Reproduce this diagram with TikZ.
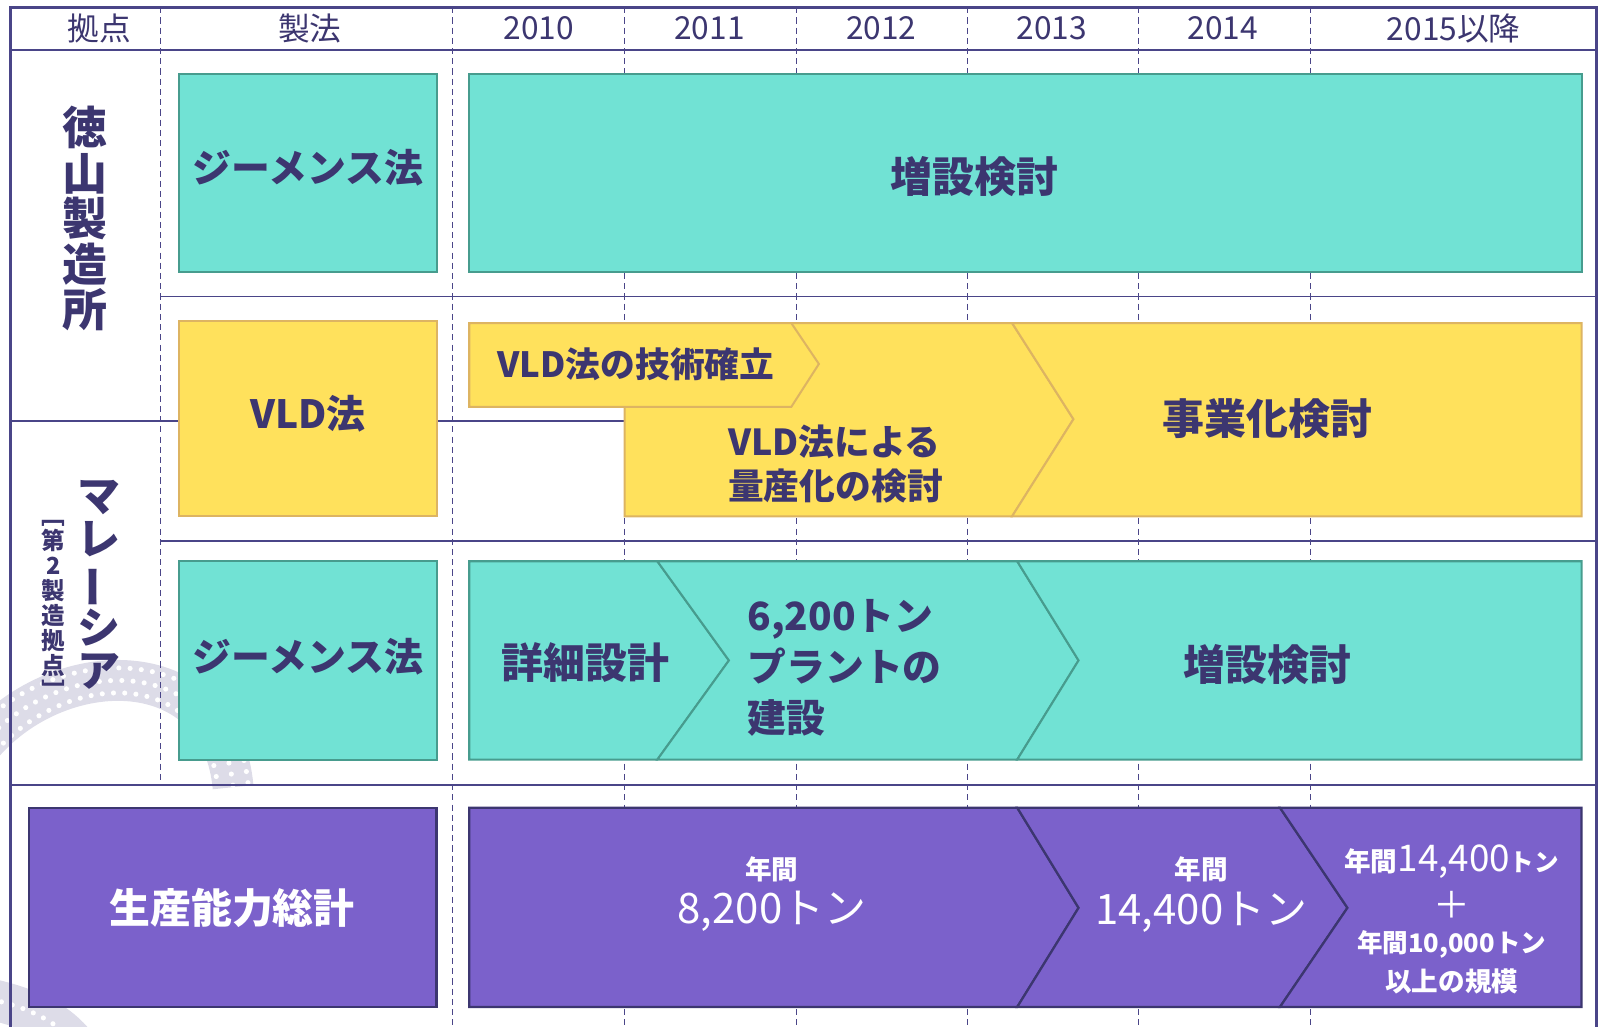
\documentclass[tikz,border=0pt]{standalone}
\usepackage{fontspec}
\setmainfont{Noto Sans CJK JP}
\usepackage{graphicx}

\definecolor{ink}{HTML}{3C3670}
\definecolor{gridline}{HTML}{4A4588}
\definecolor{tealfill}{HTML}{71E2D4}
\definecolor{tealedge}{HTML}{479C8E}
\definecolor{yellowfill}{HTML}{FFE15C}
\definecolor{yellowedge}{HTML}{DDB462}
\definecolor{purplefill}{HTML}{7B61CB}
\definecolor{purpleedge}{HTML}{3C3670}
\definecolor{ribbon}{HTML}{DDDCE8}

\begin{document}
\begin{tikzpicture}[x=1pt,y=-1pt]

      \tikzset{tealbox/.style={draw=tealedge, fill=tealfill, line width=2pt},
               yellowbox/.style={draw=yellowedge, fill=yellowfill, line width=2pt},
               purplebox/.style={draw=purpleedge, fill=purplefill, line width=2.2pt},
               frame/.style={draw=gridline, line width=1.5pt},
               yearline/.style={draw=gridline, line width=0.9pt, dash pattern=on 6pt off 4pt},
               ribbonband/.style={draw=ribbon, line width=40pt},
               ribbondots/.style={draw=white, line width=5pt, line cap=round, dash pattern=on 0pt off 11pt},
               head/.style={text=ink, inner sep=0pt, font=\fontsize{31}{31}\selectfont},
               boxtext/.style={text=ink, inner sep=0pt, font=\fontsize{38}{50}\selectfont\bfseries},
               sidetext/.style={text=ink, inner sep=0pt, align=center},
               whitetext/.style={text=white, inner sep=0pt}}

      \useasboundingbox (0,0) rectangle (1568,1004);

%% Background ribbon
      	\draw[ribbonband] (-30,745) .. controls (40,640) and (215,630) .. (228,770);
      	\draw[ribbondots] (-30,745) .. controls (40,640) and (215,630) .. (228,770);
      	\draw[ribbondots] (-42,738) .. controls (30,625) and (230,615) .. (243,770);
      	\draw[ribbondots] (-18,752) .. controls (50,655) and (200,645) .. (213,770);
      	\draw[ribbonband] (-20,975) .. controls (30,985) and (60,1000) .. (80,1030);
      	\draw[ribbondots] (-20,975) .. controls (30,985) and (60,1000) .. (80,1030);

%% Grid
      	\draw[frame, line width=3pt] (10,1010) -- (10,7) -- (1562,7) -- (1562,1010);
      	\draw[frame] (10,49) -- (1562,49);
      	\draw[frame] (157,290) -- (1562,290);
      	\draw[frame] (10,412) -- (611,412);
      	\draw[frame] (157,529) -- (1562,529);
      	\draw[frame] (10,768) -- (1562,768);
      	\draw[yearline] (157,7) -- (157,768);
      	\draw[yearline] (443,7) -- (443,1010);
      	\draw[yearline] (611,7) -- (611,1010);
      	\draw[yearline] (779,7) -- (779,1010);
      	\draw[yearline] (946,7) -- (946,1010);
      	\draw[yearline] (1114,7) -- (1114,1010);
      	\draw[yearline] (1282,7) -- (1282,1010);

%% Header
      	\node[head] (hbase) at (97,28) {拠点};
      	\node[head] (hmethod) at (303,28) {製法};
      	\node[head] (y2010) at (527,28) {2010};
      	\node[head] (y2011) at (694,28) {2011};
      	\node[head] (y2012) at (862,28) {2012};
      	\node[head] (y2013) at (1029,28) {2013};
      	\node[head] (y2014) at (1196,28) {2014};
      	\node[head] (y2015) at (1422,28) {2015以降};

%% Sites
      	\node[sidetext, font=\fontsize{44}{44.5}\selectfont\bfseries] (tokuyama) at (83,214) {徳\\山\\製\\造\\所};
      	\node[sidetext, font=\fontsize{42}{42}\selectfont\bfseries] (malaysia) at (97,572) {マ\\レ\\\rotatebox[origin=c]{90}{ー}\\シ\\ア};
      	\node[sidetext, font=\fontsize{23}{24.5}\selectfont\bfseries] (second) at (52,590) {\rotatebox[origin=c]{-90}{［}\\第\\2\\製\\造\\拠\\点\\\rotatebox[origin=c]{-90}{］}};

%% Tokuyama, Siemens
      	\node[tealbox, minimum width=252pt, minimum height=194pt] (siemensA) at (301,169) {};
      	\node[boxtext] (siemensAtext) at (301,164) {ジーメンス法};
      	\node[tealbox, minimum width=1088pt, minimum height=194pt] (expandA) at (1003,169) {};
      	\node[boxtext, font=\fontsize{41}{41}\selectfont\bfseries] (expandAtext) at (953,173) {増設検討};

%% Tokuyama, VLD
      	\node[yellowbox, minimum width=252pt, minimum height=191pt] (vld) at (301,409.5) {};
      	\node[boxtext] (vldtext) at (301,405) {VLD法};
      	\path[yellowbox] (611,316) -- (990,316) -- (1050,410) -- (990,505) -- (611,505) -- cycle;
      	\path[yellowbox] (990,316) -- (1547,316) -- (1547,505) -- (990,505) -- (1050,410) -- cycle;
      	\path[yellowbox] (459,316) -- (774,316) -- (801,356) -- (774,398) -- (459,398) -- cycle;
      	\node[boxtext, font=\fontsize{34}{34}\selectfont\bfseries] (vldfirst) at (622,356) {VLD法の技術確立};
      	\node[boxtext, font=\fontsize{35}{43}\selectfont\bfseries, align=left, anchor=west] (vldmass) at (712,454) {VLD法による\\量産化の検討};
      	\node[boxtext, font=\fontsize{41}{41}\selectfont\bfseries] (business) at (1240,410) {事業化検討};

%% Malaysia, Siemens
      	\node[tealbox, minimum width=252pt, minimum height=194pt] (siemensB) at (301,646) {};
      	\node[boxtext] (siemensBtext) at (301,642) {ジーメンス法};
      	\path[tealbox] (459,549) -- (643,549) -- (713,646) -- (643,743) -- (459,743) -- cycle;
      	\path[tealbox] (643,549) -- (995,549) -- (1055,646) -- (995,743) -- (643,743) -- (713,646) -- cycle;
      	\path[tealbox] (995,549) -- (1547,549) -- (1547,743) -- (995,743) -- (1055,646) -- cycle;
      	\node[boxtext, font=\fontsize{41}{41}\selectfont\bfseries] (design) at (573,648) {詳細設計};
      	\node[boxtext, align=left, anchor=west] (plant) at (731,653) {6,200トン\\プラントの\\建設};
      	\node[boxtext, font=\fontsize{41}{41}\selectfont\bfseries] (expandB) at (1240,650) {増設検討};

%% Total capacity
      	\node[purplebox, minimum width=399pt, minimum height=195pt] (total) at (227.5,887.5) {};
      	\node[whitetext, font=\fontsize{40}{40}\selectfont\bfseries] (totaltext) at (227,888) {生産能力総計};
      	\path[purplebox] (459,790) -- (995,790) -- (1055,888) -- (995,985) -- (459,985) -- cycle;
      	\path[purplebox] (995,790) -- (1252,790) -- (1318,888) -- (1252,985) -- (995,985) -- (1055,888) -- cycle;
      	\path[purplebox] (1252,790) -- (1547,790) -- (1547,985) -- (1252,985) -- (1318,888) -- cycle;
      	\node[whitetext, font=\fontsize{26}{26}\selectfont\bfseries] (capAyear) at (755,850) {年間};
      	\node[whitetext, font=\fontsize{41}{41}\selectfont] (capA) at (755,891) {8,200トン};
      	\node[whitetext, font=\fontsize{26}{26}\selectfont\bfseries] (capByear) at (1175,850) {年間};
      	\node[whitetext, font=\fontsize{41}{41}\selectfont] (capB) at (1175,892) {14,400トン};
      	\node[whitetext] (capC) at (1420,843) {{\fontsize{26}{26}\selectfont\bfseries 年間}{\fontsize{36}{36}\selectfont 14,400}{\fontsize{24}{24}\selectfont\bfseries トン}};
      	\node[whitetext, font=\fontsize{36}{36}\selectfont] (capplus) at (1420,885) {＋};
      	\node[whitetext, font=\fontsize{25}{25}\selectfont\bfseries] (capD) at (1420,924) {年間10,000トン};
      	\node[whitetext, font=\fontsize{26}{26}\selectfont\bfseries] (capE) at (1420,960) {以上の規模};

	\end{tikzpicture}
\end{document}
